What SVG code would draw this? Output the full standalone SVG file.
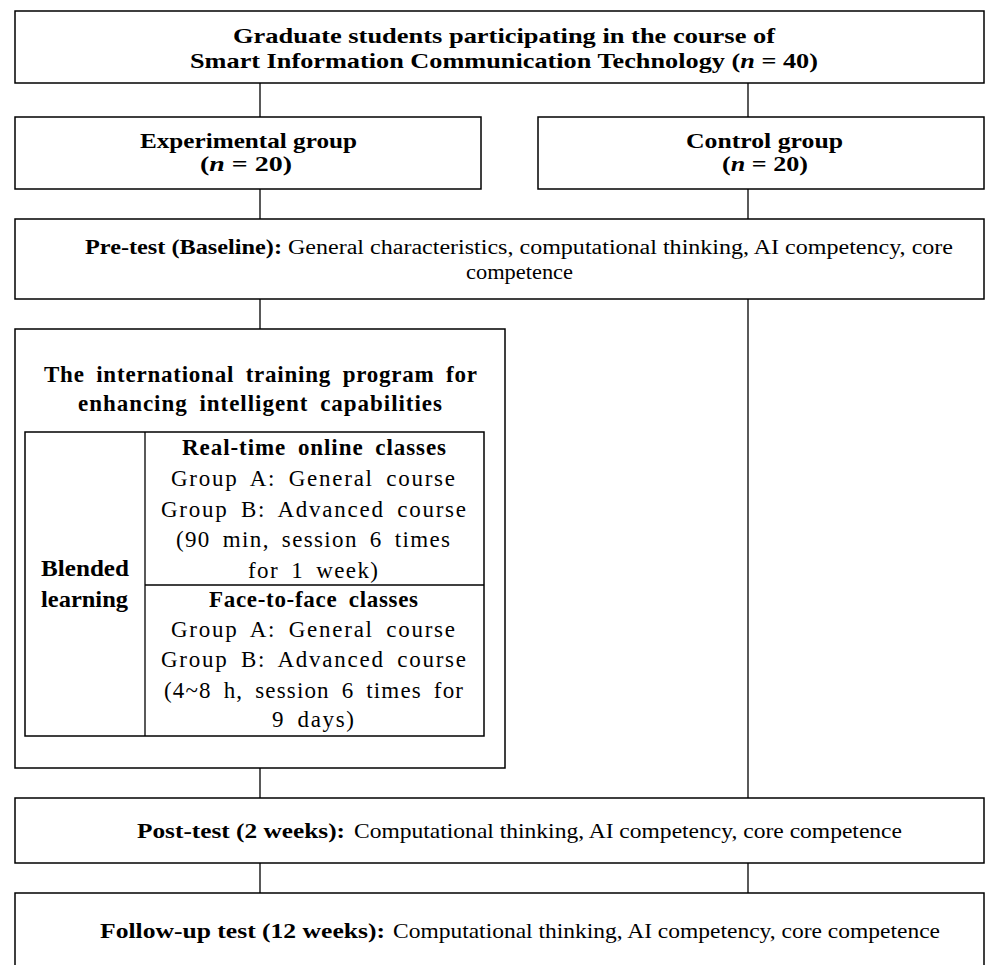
<svg xmlns="http://www.w3.org/2000/svg" width="994" height="965" viewBox="0 0 994 965">
<style>
.box{fill:#fff;stroke:#000;stroke-width:1.5}
.ln{stroke:#000;stroke-width:1.3;fill:none}
text{font-family:"Liberation Serif","Times New Roman",serif;fill:#000}
.m{font-size:21px}
.s{font-size:20px}
.b{font-weight:bold}
.i{font-style:italic}
.p{font-size:23px;word-spacing:5px}
</style>
<rect width="994" height="965" fill="#fff"/>
<g id="connectors">
<line class="ln" x1="260" y1="83" x2="260" y2="117"/>
<line class="ln" x1="748" y1="83" x2="748" y2="117"/>
<line class="ln" x1="260" y1="189" x2="260" y2="219"/>
<line class="ln" x1="748" y1="189" x2="748" y2="219"/>
<line class="ln" x1="260" y1="299" x2="260" y2="329"/>
<line class="ln" x1="748" y1="299" x2="748" y2="798"/>
<line class="ln" x1="260" y1="768" x2="260" y2="798"/>
<line class="ln" x1="260" y1="863" x2="260" y2="893"/>
<line class="ln" x1="748" y1="863" x2="748" y2="893"/>
</g>
<g id="participants">
<rect class="box" x="15" y="11" width="969" height="72"/>
<text class="m b" x="233" y="43" textLength="542" lengthAdjust="spacingAndGlyphs">Graduate students participating in the course of</text>
<text class="m b" x="190" y="68" textLength="628" lengthAdjust="spacingAndGlyphs">Smart Information Communication Technology (<tspan class="i">n</tspan> = 40)</text>
</g>
<g id="experimental">
<rect class="box" x="15" y="117" width="466" height="72"/>
<text class="m b" x="140" y="148" textLength="217" lengthAdjust="spacingAndGlyphs">Experimental group</text>
<text class="m b" x="200" y="171" textLength="92" lengthAdjust="spacingAndGlyphs">(<tspan class="i">n</tspan> = 20)</text>
</g>
<g id="control">
<rect class="box" x="538" y="117" width="446" height="72"/>
<text class="m b" x="686" y="148" textLength="157" lengthAdjust="spacingAndGlyphs">Control group</text>
<text class="m b" x="722" y="171" textLength="86" lengthAdjust="spacingAndGlyphs">(<tspan class="i">n</tspan> = 20)</text>
</g>
<g id="pretest">
<rect class="box" x="15" y="219" width="969" height="80"/>
<text class="s b" x="85" y="254" textLength="197" lengthAdjust="spacingAndGlyphs">Pre-test (Baseline):</text>
<text class="s" x="288" y="254" textLength="665" lengthAdjust="spacingAndGlyphs">General characteristics, computational thinking, AI competency, core</text>
<text class="s" x="466" y="279" textLength="107" lengthAdjust="spacingAndGlyphs">competence</text>
</g>
<g id="program">
<rect class="box" x="15" y="329" width="490" height="439"/>
<text class="p b" x="44" y="382" textLength="433" lengthAdjust="spacing">The international training program for</text>
<text class="p b" x="78" y="411" textLength="364" lengthAdjust="spacing">enhancing intelligent capabilities</text>
</g>
<g id="blended">
<rect class="box" x="25" y="432" width="459" height="304"/>
<line class="ln" x1="145" y1="432" x2="145" y2="736"/>
<text class="p b" x="41" y="576" textLength="88" lengthAdjust="spacingAndGlyphs">Blended</text>
<text class="p b" x="41" y="607" textLength="87" lengthAdjust="spacingAndGlyphs">learning</text>
</g>
<g id="online">
<line class="ln" x1="145" y1="585" x2="484" y2="585"/>
<text class="p b" x="182" y="455" textLength="264" lengthAdjust="spacing">Real-time online classes</text>
<text class="p" x="171" y="486" textLength="284" lengthAdjust="spacing">Group A: General course</text>
<text class="p" x="161" y="517" textLength="305" lengthAdjust="spacing">Group B: Advanced course</text>
<text class="p" x="176" y="547" textLength="274" lengthAdjust="spacing">(90 min, session 6 times</text>
<text class="p" x="248" y="578" textLength="130" lengthAdjust="spacing">for 1 week)</text>
</g>
<g id="facetoface">
<text class="p b" x="209" y="607" textLength="209" lengthAdjust="spacing">Face-to-face classes</text>
<text class="p" x="171" y="637" textLength="284" lengthAdjust="spacing">Group A: General course</text>
<text class="p" x="161" y="667" textLength="305" lengthAdjust="spacing">Group B: Advanced course</text>
<text class="p" x="164" y="698" textLength="299" lengthAdjust="spacing">(4~8 h, session 6 times for</text>
<text class="p" x="272" y="727" textLength="82" lengthAdjust="spacing">9 days)</text>
</g>
<g id="posttest">
<rect class="box" x="15" y="798" width="969" height="65"/>
<text class="m b" x="137" y="838" textLength="208" lengthAdjust="spacingAndGlyphs">Post-test (2 weeks):</text>
<text class="m" x="354" y="838" textLength="548" lengthAdjust="spacingAndGlyphs">Computational thinking, AI competency, core competence</text>
</g>
<g id="followup">
<rect class="box" x="15" y="893" width="969" height="80"/>
<text class="m b" x="100" y="938" textLength="285" lengthAdjust="spacingAndGlyphs">Follow-up test (12 weeks):</text>
<text class="m" x="393" y="938" textLength="547" lengthAdjust="spacingAndGlyphs">Computational thinking, AI competency, core competence</text>
</g>
</svg>
